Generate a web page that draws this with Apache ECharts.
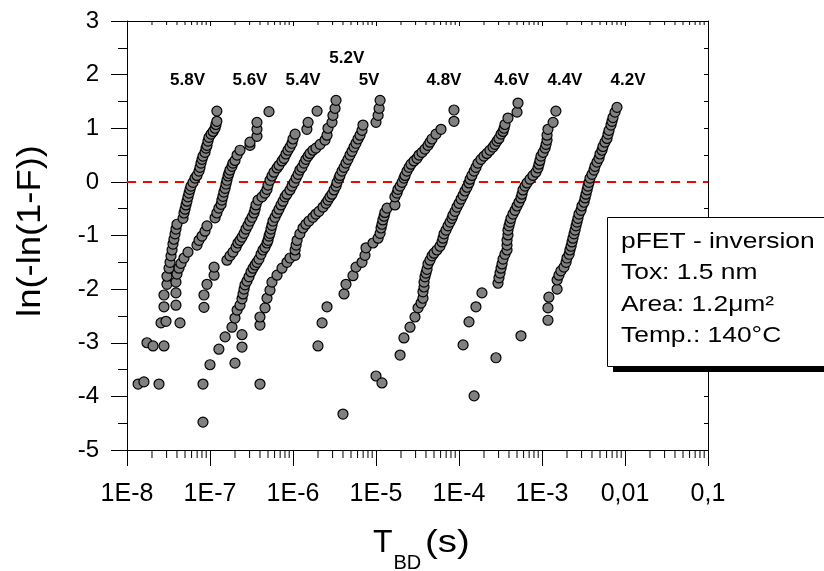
<!DOCTYPE html>
<html>
<head>
<meta charset="utf-8">
<script src="https://cdn.jsdelivr.net/npm/echarts@6/dist/echarts.min.js"></script>
<style>
html,body{margin:0;padding:0;background:#fff;}
#chart{width:824px;height:571px;}
</style>
</head>
<body>
<div id="chart"></div>
<script>
// ---- data: [T_BD (s), ln(-ln(1-F))] ----
const s58 = [[1.36e-8,-3.77],[1.60e-8,-3.73],[2.43e-8,-3.77],[1.74e-8,-3.00],[2.06e-8,-3.06],[2.79e-8,-3.06],[2.57e-8,-2.63],[2.95e-8,-2.60],[2.79e-8,-2.33],[2.79e-8,-2.11],[3.03e-8,-1.91],[3.03e-8,-1.76],[3.21e-8,-1.61],[3.30e-8,-1.50],[3.39e-8,-1.38],[3.49e-8,-1.27],[3.58e-8,-1.16],[3.68e-8,-1.07],[3.79e-8,-0.97],[3.89e-8,-0.88],[4.00e-8,-0.79],[4.73e-8,-0.68],[4.86e-8,-0.58],[5.00e-8,-0.51],[5.14e-8,-0.43],[5.28e-8,-0.36],[5.43e-8,-0.28],[5.58e-8,-0.21],[5.74e-8,-0.14],[5.90e-8,-0.08],[6.24e-8,-0.01],[6.60e-8,0.07],[6.97e-8,0.12],[7.37e-8,0.20],[7.58e-8,0.27],[7.79e-8,0.35],[8.01e-8,0.42],[8.23e-8,0.48],[8.70e-8,0.55],[8.95e-8,0.63],[9.20e-8,0.68],[9.45e-8,0.76],[9.72e-8,0.83],[1.03e-7,0.89],[1.09e-7,0.94],[1.15e-7,1.00],[1.18e-7,1.07],[1.21e-7,1.13],[1.21e-7,1.32]];
const s56 = [[4.35e-8,-2.63],[3.89e-8,-2.30],[3.89e-8,-2.07],[3.89e-8,-1.87],[4.00e-8,-1.72],[4.23e-8,-1.61],[4.47e-8,-1.52],[4.86e-8,-1.42],[5.43e-8,-1.31],[6.97e-8,-1.18],[7.37e-8,-1.09],[8.01e-8,-1.01],[8.70e-8,-0.92],[9.20e-8,-0.82],[1.15e-7,-0.67],[1.21e-7,-0.58],[1.28e-7,-0.49],[1.36e-7,-0.42],[1.39e-7,-0.34],[1.43e-7,-0.27],[1.47e-7,-0.19],[1.52e-7,-0.12],[1.56e-7,-0.04],[1.60e-7,0.03],[1.65e-7,0.11],[1.69e-7,0.16],[1.74e-7,0.22],[1.84e-7,0.29],[1.89e-7,0.35],[2.00e-7,0.40],[2.12e-7,0.50],[2.30e-7,0.59],[3.03e-7,0.68],[3.03e-7,0.74],[3.68e-7,0.85],[3.68e-7,0.98],[3.68e-7,1.11],[5.14e-7,1.31]];
const s54 = [[8.46e-8,-2.34],[8.46e-8,-2.11],[9.20e-8,-1.91],[1.12e-7,-1.74],[1.12e-7,-1.59],[1.60e-7,-1.46],[1.74e-7,-1.38],[1.89e-7,-1.31],[2.06e-7,-1.22],[2.17e-7,-1.14],[2.30e-7,-1.09],[2.43e-7,-1.03],[2.57e-7,-0.96],[2.71e-7,-0.88],[2.87e-7,-0.81],[3.03e-7,-0.73],[3.21e-7,-0.66],[3.39e-7,-0.58],[3.49e-7,-0.51],[3.58e-7,-0.43],[3.79e-7,-0.34],[4.23e-7,-0.28],[4.60e-7,-0.21],[4.86e-7,-0.14],[5.00e-7,-0.06],[5.28e-7,0.03],[5.58e-7,0.11],[5.90e-7,0.18],[6.42e-7,0.26],[6.78e-7,0.31],[7.37e-7,0.39],[7.79e-7,0.44],[8.23e-7,0.52],[8.70e-7,0.59],[9.20e-7,0.65],[9.72e-7,0.72],[1.00e-6,0.80],[1.06e-6,0.89],[1.47e-6,0.98],[1.52e-6,1.11],[1.95e-6,1.32]];
const s52 = [[8.23e-8,-4.48],[8.23e-8,-3.77],[1.00e-7,-3.41],[1.28e-7,-3.12],[1.52e-7,-2.89],[1.84e-7,-2.71],[2.00e-7,-2.54],[2.12e-7,-2.39],[2.30e-7,-2.30],[2.43e-7,-2.18],[2.50e-7,-2.09],[2.57e-7,-2.00],[2.64e-7,-1.92],[2.79e-7,-1.85],[2.95e-7,-1.77],[3.12e-7,-1.68],[3.30e-7,-1.61],[3.49e-7,-1.55],[3.68e-7,-1.50],[3.89e-7,-1.44],[4.12e-7,-1.35],[4.35e-7,-1.27],[4.60e-7,-1.22],[4.86e-7,-1.14],[5.00e-7,-1.09],[5.14e-7,-1.01],[5.28e-7,-0.96],[5.43e-7,-0.88],[5.58e-7,-0.81],[5.74e-7,-0.73],[6.07e-7,-0.66],[6.42e-7,-0.58],[6.78e-7,-0.51],[7.17e-7,-0.43],[7.58e-7,-0.36],[8.01e-7,-0.28],[8.46e-7,-0.23],[9.20e-7,-0.15],[9.72e-7,-0.08],[1.03e-6,-0.01],[1.09e-6,0.07],[1.15e-6,0.14],[1.21e-6,0.22],[1.28e-6,0.27],[1.36e-6,0.35],[1.43e-6,0.42],[1.52e-6,0.48],[1.60e-6,0.53],[1.74e-6,0.59],[1.89e-6,0.63],[2.12e-6,0.70],[2.43e-6,0.78],[2.57e-6,0.87],[2.64e-6,1.00],[2.95e-6,1.11],[3.03e-6,1.24],[3.21e-6,1.37],[3.30e-6,1.52]];
const s50 = [[4.00e-6,-4.33],[4.00e-7,-3.77],[2.00e-7,-3.38],[2.43e-7,-3.08],[2.43e-7,-2.85],[2.00e-6,-3.06],[2.24e-6,-2.63],[2.57e-6,-2.33],[4.00e-7,-2.67],[4.00e-7,-2.52],[4.60e-7,-2.35],[4.86e-7,-2.17],[5.28e-7,-2.02],[5.58e-7,-1.87],[6.42e-7,-1.74],[7.37e-7,-1.61],[8.46e-7,-1.50],[9.20e-7,-1.42],[1.06e-6,-1.37],[1.06e-6,-1.27],[1.09e-6,-1.18],[1.12e-6,-1.09],[1.21e-6,-0.97],[1.32e-6,-0.86],[1.43e-6,-0.79],[1.56e-6,-0.73],[1.74e-6,-0.66],[1.89e-6,-0.60],[2.06e-6,-0.55],[2.30e-6,-0.47],[2.50e-6,-0.40],[2.64e-6,-0.34],[2.79e-6,-0.28],[2.95e-6,-0.23],[3.12e-6,-0.15],[3.30e-6,-0.08],[3.39e-6,-0.01],[3.58e-6,0.07],[3.68e-6,0.12],[3.89e-6,0.20],[4.12e-6,0.27],[4.35e-6,0.35],[4.60e-6,0.42],[4.86e-6,0.50],[5.14e-6,0.57],[5.43e-6,0.65],[5.74e-6,0.72],[6.07e-6,0.80],[6.42e-6,0.87],[6.78e-6,0.96],[6.97e-6,1.06],[1.00e-5,1.11],[1.06e-5,1.24],[1.09e-5,1.37],[1.12e-5,1.52]];
const s48 = [[1.00e-5,-3.62],[1.18e-5,-3.75],[4.12e-6,-2.09],[4.35e-6,-1.91],[5.28e-6,-1.75],[5.74e-6,-1.59],[6.78e-6,-1.50],[7.37e-6,-1.37],[7.58e-6,-1.23],[9.20e-6,-1.14],[1.06e-5,-1.05],[1.12e-5,-0.96],[1.15e-5,-0.86],[1.18e-5,-0.79],[1.21e-5,-0.71],[1.25e-5,-0.64],[1.28e-5,-0.57],[1.36e-5,-0.49],[1.69e-5,-0.43],[1.69e-5,-0.28],[1.79e-5,-0.21],[1.84e-5,-0.14],[1.95e-5,-0.08],[2.06e-5,-0.01],[2.17e-5,0.07],[2.24e-5,0.12],[2.36e-5,0.20],[2.50e-5,0.27],[2.64e-5,0.33],[2.87e-5,0.39],[3.12e-5,0.44],[3.30e-5,0.50],[3.58e-5,0.55],[3.89e-5,0.61],[4.23e-5,0.68],[4.47e-5,0.74],[4.73e-5,0.80],[5.28e-5,0.89],[6.07e-5,0.98],[8.70e-5,1.13],[8.70e-5,1.34]];
const s46 = [[1.95e-5,-3.23],[2.17e-5,-2.91],[2.57e-5,-2.71],[2.95e-5,-2.52],[3.21e-5,-2.35],[3.49e-5,-2.26],[3.68e-5,-2.17],[3.68e-5,-2.05],[3.79e-5,-1.96],[3.79e-5,-1.87],[3.89e-5,-1.77],[4.00e-5,-1.70],[4.12e-5,-1.63],[4.23e-5,-1.53],[4.47e-5,-1.46],[4.73e-5,-1.38],[5.00e-5,-1.33],[5.43e-5,-1.27],[5.90e-5,-1.20],[6.24e-5,-1.12],[6.42e-5,-1.05],[6.60e-5,-0.97],[6.97e-5,-0.90],[7.37e-5,-0.82],[7.79e-5,-0.75],[8.23e-5,-0.68],[8.46e-5,-0.62],[8.95e-5,-0.55],[9.45e-5,-0.47],[1.00e-4,-0.40],[1.06e-4,-0.32],[1.12e-4,-0.25],[1.18e-4,-0.17],[1.25e-4,-0.10],[1.32e-4,-0.02],[1.36e-4,0.05],[1.43e-4,0.12],[1.52e-4,0.20],[1.60e-4,0.27],[1.69e-4,0.35],[1.84e-4,0.42],[2.00e-4,0.48],[2.17e-4,0.53],[2.36e-4,0.59],[2.57e-4,0.65],[2.71e-4,0.70],[2.87e-4,0.76],[3.03e-4,0.81],[3.21e-4,0.89],[3.39e-4,0.94],[3.49e-4,1.00],[3.58e-4,1.07],[3.89e-4,1.19],[5.00e-4,1.30],[5.14e-4,1.47]];
const s44 = [[1.52e-4,-3.99],[1.12e-4,-3.04],[2.79e-4,-3.28],[5.58e-4,-2.87],[1.32e-4,-2.61],[1.60e-4,-2.33],[1.89e-4,-2.07],[2.95e-4,-1.89],[3.03e-4,-1.79],[3.12e-4,-1.70],[3.21e-4,-1.61],[3.30e-4,-1.53],[3.39e-4,-1.44],[3.58e-4,-1.35],[3.79e-4,-1.27],[3.79e-4,-1.18],[3.79e-4,-1.09],[3.89e-4,-0.99],[3.89e-4,-0.90],[4.00e-4,-0.82],[4.12e-4,-0.75],[4.23e-4,-0.68],[4.47e-4,-0.60],[4.73e-4,-0.53],[5.00e-4,-0.45],[5.28e-4,-0.38],[5.58e-4,-0.30],[5.74e-4,-0.23],[5.90e-4,-0.15],[6.24e-4,-0.08],[6.60e-4,-0.02],[7.17e-4,0.05],[7.79e-4,0.12],[8.46e-4,0.18],[8.95e-4,0.26],[9.20e-4,0.33],[9.45e-4,0.40],[9.72e-4,0.48],[1.03e-3,0.55],[1.09e-3,0.63],[1.12e-3,0.70],[1.15e-3,0.78],[1.15e-3,0.87],[1.18e-3,0.98],[1.36e-3,1.11],[1.47e-3,1.32]];
const s42 = [[1.18e-3,-2.58],[1.18e-3,-2.35],[1.21e-3,-2.15],[1.52e-3,-2.00],[1.52e-3,-1.83],[1.60e-3,-1.74],[1.69e-3,-1.66],[1.84e-3,-1.59],[1.95e-3,-1.50],[2.00e-3,-1.42],[2.12e-3,-1.35],[2.17e-3,-1.27],[2.24e-3,-1.20],[2.30e-3,-1.12],[2.36e-3,-1.05],[2.43e-3,-0.97],[2.50e-3,-0.90],[2.57e-3,-0.82],[2.64e-3,-0.75],[2.71e-3,-0.68],[2.79e-3,-0.60],[2.95e-3,-0.53],[3.03e-3,-0.45],[3.21e-3,-0.38],[3.30e-3,-0.30],[3.39e-3,-0.23],[3.49e-3,-0.15],[3.58e-3,-0.08],[3.68e-3,-0.01],[3.79e-3,0.07],[4.00e-3,0.14],[4.23e-3,0.22],[4.35e-3,0.29],[4.60e-3,0.37],[4.86e-3,0.44],[5.00e-3,0.52],[5.28e-3,0.59],[5.43e-3,0.66],[5.74e-3,0.74],[6.07e-3,0.81],[6.24e-3,0.89],[6.42e-3,0.96],[6.78e-3,1.06],[6.97e-3,1.13],[7.17e-3,1.20],[7.58e-3,1.30],[8.01e-3,1.39]];

const seriesNames = ['5.8V','5.6V','5.4V','5.2V','5V','4.8V','4.6V','4.4V','4.2V'];
const seriesData = [s58, s56, s54, s52, s50, s48, s46, s44, s42];

// voltage annotations (positioned in data coordinates)
const voltLabels = ['5.8V','5.6V','5.4V','5.2V','5V','4.8V','4.6V','4.4V','4.2V'];
const voltLabelT = [5.36e-8, 3.03e-7, 1.32e-6, 4.44e-6, 8.24e-6, 6.59e-5, 4.31e-4, 1.89e-3, 1.09e-2];
const voltLabelY = [1.89, 1.89, 1.89, 2.31, 1.89, 1.89, 1.89, 1.89, 1.89];

// axes
const xTickLabels = ['1E-8','1E-7','1E-6','1E-5','1E-4','1E-3','0,01','0,1'];
const xMin = 1e-8, xMax = 0.1;
const yMin = -5, yMax = 3;
const minorMantissas = [2,3,4,5,6,7,8,9];
const decadeExps = [-8,-7,-6,-5,-4,-3,-2];
const legendLines = ['pFET - inversion', 'Tox: 1.5 nm', 'Area: 1.2\u03bcm\u00b2', 'Temp.: 140\u00b0C'];

const FONT = '"Liberation Sans", Arial, Helvetica, sans-serif';

const minorTickData = [];
decadeExps.forEach(e => minorMantissas.forEach(m => minorTickData.push([m * Math.pow(10, e), 0])));

const chart = echarts.init(document.getElementById('chart'), null, {renderer: 'canvas'});

const scatterSeries = seriesNames.map((name, i) => ({
  type: 'scatter',
  name: name,
  data: seriesData[i],
  symbol: 'circle',
  symbolSize: 10,
  itemStyle: {color: '#808080', borderColor: '#000', borderWidth: 1.2, opacity: 1},
  emphasis: {disabled: true},
  z: 5
}));

const option = {
  animation: false,
  backgroundColor: '#fff',
  grid: {left: 127, right: 116, top: 21, bottom: 121, containLabel: false},
  xAxis: [{
    type: 'log', logBase: 10, min: xMin, max: xMax, splitNumber: 7, position: 'bottom',
    axisLine: {show: true, onZero: false, lineStyle: {color: '#000', width: 1}},
    axisTick: {show: true, inside: false, length: 16, lineStyle: {color: '#000', width: 1}},
    axisLabel: {show: true, margin: 32, fontSize: 25, fontFamily: FONT, color: '#000',
      formatter: v => xTickLabels[Math.round(Math.log10(v)) + 8]},
    splitLine: {show: false}
  }, {
    type: 'log', logBase: 10, min: xMin, max: xMax, splitNumber: 7, position: 'top',
    axisLine: {show: true, onZero: false, lineStyle: {color: '#000', width: 1}},
    axisTick: {show: true, inside: true, length: 5, lineStyle: {color: '#000', width: 1}},
    axisLabel: {show: false}, splitLine: {show: false}
  }],
  yAxis: [{
    type: 'value', min: yMin, max: yMax, interval: 1, position: 'left',
    axisLine: {show: true, onZero: false, lineStyle: {color: '#000', width: 1}},
    axisTick: {show: true, inside: false, length: 16, lineStyle: {color: '#000', width: 1}},
    minorTick: {show: true, splitNumber: 2, length: 9, lineStyle: {color: '#000', width: 1}},
    axisLabel: {show: true, margin: 28, fontSize: 24, fontFamily: FONT, color: '#000'},
    splitLine: {show: false}
  }, {
    type: 'value', min: yMin, max: yMax, interval: 0.5, position: 'right',
    axisLine: {show: true, onZero: false, lineStyle: {color: '#000', width: 1}},
    axisTick: {show: true, inside: true, length: 4, lineStyle: {color: '#000', width: 1}},
    axisLabel: {show: false}, splitLine: {show: false}
  }],
  series: [{
    type: 'custom',
    name: 'logMinorTicks',
    data: minorTickData,
    encode: {x: 0, y: 1},
    clip: false,
    silent: true,
    z: 6,
    renderItem: function (params, api) {
      const v = api.value(0);
      const b = api.coord([v, yMin]);
      const t = api.coord([v, yMax]);
      return {type: 'group', children: [
        {type: 'line', shape: {x1: b[0], y1: b[1], x2: b[0], y2: b[1] + 8}, style: {stroke: '#000', lineWidth: 1}},
        {type: 'line', shape: {x1: t[0], y1: t[1], x2: t[0], y2: t[1] + 4}, style: {stroke: '#000', lineWidth: 1}}
      ]};
    },
    markLine: {
      silent: true, symbol: ['none', 'none'], label: {show: false},
      lineStyle: {color: '#ff0000', width: 2, type: [9, 7]},
      data: [{yAxis: 0}]
    }
  }].concat(scatterSeries).concat([{
    type: 'scatter',
    name: 'voltages',
    data: voltLabels.map((n, i) => ({name: n, value: [voltLabelT[i], voltLabelY[i]]})),
    symbol: 'circle', symbolSize: 1,
    itemStyle: {color: 'rgba(0,0,0,0)', borderWidth: 0},
    label: {show: true, position: 'inside', formatter: '{b}', fontSize: 17, fontWeight: 'bold', fontFamily: FONT,
      color: '#000', opacity: 1, textBorderWidth: 0, textBorderColor: 'transparent', textShadowBlur: 0},
    emphasis: {disabled: true},
    silent: true,
    z: 7
  }]),
  graphic: [
    {type: 'rect', z: 100, shape: {x: 613, y: 366, width: 230, height: 6}, style: {fill: '#000'}},
    {type: 'rect', z: 101, shape: {x: 607.5, y: 217.5, width: 240, height: 149}, style: {fill: '#fff', stroke: '#000', lineWidth: 1}},
    {type: 'text', z: 102, x: 621, y: 241.5, scaleX: 1.2, style: {text: legendLines[0], fontSize: 22, fontFamily: FONT, fill: '#000', align: 'left', verticalAlign: 'middle'}},
    {type: 'text', z: 102, x: 621, y: 272.5, scaleX: 1.2, style: {text: legendLines[1], fontSize: 22, fontFamily: FONT, fill: '#000', align: 'left', verticalAlign: 'middle'}},
    {type: 'text', z: 102, x: 621, y: 305, scaleX: 1.2, style: {text: legendLines[2], fontSize: 22, fontFamily: FONT, fill: '#000', align: 'left', verticalAlign: 'middle'}},
    {type: 'text', z: 102, x: 621, y: 336, scaleX: 1.2, style: {text: legendLines[3], fontSize: 22, fontFamily: FONT, fill: '#000', align: 'left', verticalAlign: 'middle'}},
    {type: 'text', z: 102, x: 31, y: 231, rotation: Math.PI / 2, scaleX: 1.07, style: {text: 'ln(-ln(1-F))', fontSize: 34, fontFamily: FONT, fill: '#000', align: 'center', verticalAlign: 'middle'}},
    {type: 'text', z: 102, x: 373, y: 543.5, style: {text: 'T', fontSize: 32, fontFamily: FONT, fill: '#000', align: 'left', verticalAlign: 'middle'}},
    {type: 'text', z: 102, x: 393.5, y: 563, style: {text: 'BD', fontSize: 20, fontFamily: FONT, fill: '#000', align: 'left', verticalAlign: 'middle'}},
    {type: 'text', z: 102, x: 425, y: 543.5, scaleX: 1.2, style: {text: '(s)', fontSize: 32, fontFamily: FONT, fill: '#000', align: 'left', verticalAlign: 'middle'}}
  ]
};
chart.setOption(option);
</script>
</body>
</html>
